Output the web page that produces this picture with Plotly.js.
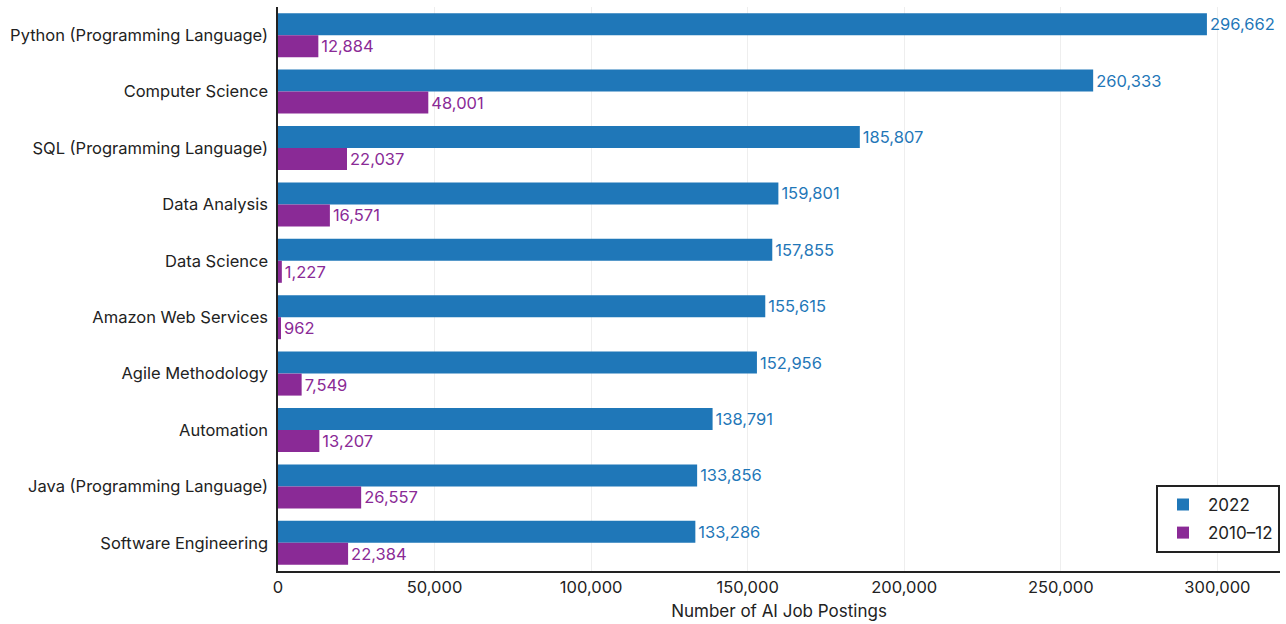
<!DOCTYPE html>
<html>
<head>
<meta charset="utf-8">
<script src="https://cdn.plot.ly/plotly-3.0.1.min.js"></script>
<style>html,body{margin:0;padding:0;background:#fff}#chart{width:1286px;height:624px}</style>
</head>
<body>
<div id="chart"></div>
<script>
const skills = ["Python (Programming Language)","Computer Science","SQL (Programming Language)","Data Analysis","Data Science","Amazon Web Services","Agile Methodology","Automation","Java (Programming Language)","Software Engineering"];
const postings2022 = [296662,260333,185807,159801,157855,155615,152956,138791,133856,133286];
const postings2010 = [12884,48001,22037,16571,1227,962,7549,13207,26557,22384];
const tickVals = [0,50000,100000,150000,200000,250000,300000];

const blue = "#1f77b8", purple = "#8a2a96";
const fmt = v => v.toLocaleString("en-US");
const font = "Inter, 'Noto Sans', sans-serif";

const traces = [
  {type:"bar", orientation:"h", name:"2022", y:skills, x:postings2022, legendgroup:"a",
   marker:{color:blue}, text:postings2022.map(fmt), textposition:"outside",
   textfont:{color:blue, size:16.5, family:font}, cliponaxis:false},
  {type:"bar", orientation:"h", name:"2010–12", y:skills, x:postings2010, legendgroup:"b",
   marker:{color:purple}, text:postings2010.map(fmt), textposition:"outside",
   textfont:{color:purple, size:16.5, family:font}, cliponaxis:false}
];

const layout = {
  width:1286, height:624,
  margin:{l:278, r:6, t:7, b:53},
  barmode:"group", bargap:0.22, bargroupgap:0,
  font:{family:font, size:16, color:"#222"},
  paper_bgcolor:"#fff", plot_bgcolor:"#fff",
  xaxis:{range:[0,320000], tickvals:tickVals, ticktext:tickVals.map(fmt),
    showgrid:true, gridcolor:"#eeeeee", zeroline:false,
    showline:true, linecolor:"#222", linewidth:2, ticks:"",
    tickfont:{size:16.5}, title:{text:"Number of AI Job Postings", font:{size:17}, standoff:9}},
  yaxis:{autorange:"reversed", showline:true, linecolor:"#222", linewidth:2,
    ticks:"", showgrid:false, tickfont:{size:16.5}, ticksuffix:" "},
  legend:{x:1, xanchor:"right", y:0.032, yanchor:"bottom",
    bordercolor:"#222", borderwidth:2, bgcolor:"#fff", font:{size:17},
    traceorder:"grouped", itemwidth:40, tracegroupgap:3},
  showlegend:true
};

Plotly.newPlot("chart", traces, layout, {displayModeBar:false, staticPlot:true});
</script>
</body>
</html>
